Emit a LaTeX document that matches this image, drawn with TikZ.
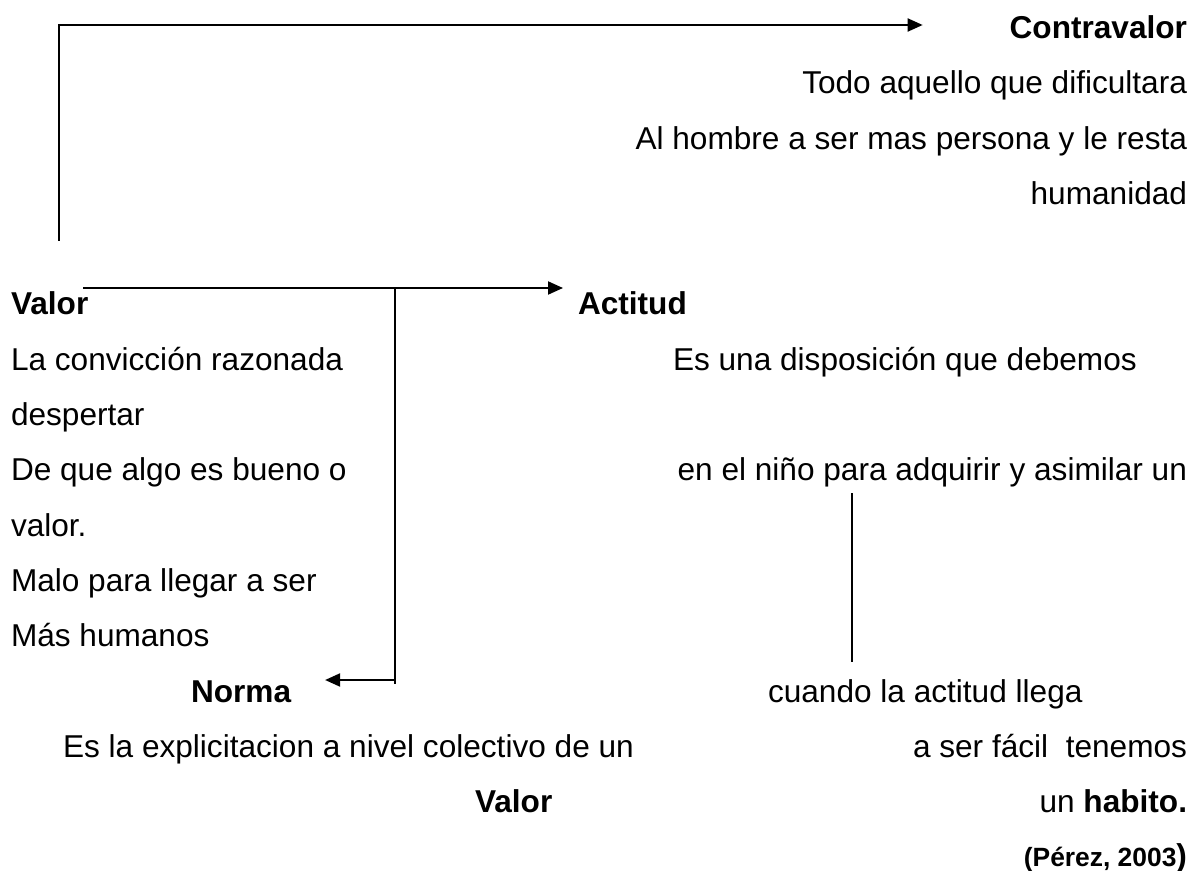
\documentclass[tikz,border=0pt]{standalone}
\usepackage{fontspec}
\setmainfont{Liberation Sans}
\usetikzlibrary{arrows.meta}
\newcommand{\bodysize}{\fontsize{15.8pt}{19pt}\selectfont}
\newcommand{\citesize}{\fontsize{13.2pt}{16pt}\selectfont}
\tikzset{
  txt/.style={inner sep=0pt, outer sep=0pt, font=\bodysize},
  lft/.style={txt, anchor=base west},
  rgt/.style={txt, anchor=base east},
  head/.style={font=\bodysize\bfseries},
  link/.style={line width=1pt},
  arr/.style={link, -{Triangle[length=7.5pt,width=6.5pt]}}
}
\begin{document}
\begin{tikzpicture}[x=0.5pt,y=-0.5pt]
  \useasboundingbox (0,0) rectangle (1193,871);
  % contravalor
  \node[rgt, head] (contra) at (1187,38.5) {Contravalor};
  \node[rgt] (todo) at (1187,93.8) {Todo aquello que dificultara};
  \node[rgt] (hombre) at (1187,149.1) {Al hombre a ser mas persona y le resta};
  \node[rgt] (human) at (1187,204.4) {humanidad};
  % valor
  \node[lft, head] (valor) at (11,315) {Valor};
  \node[lft] (conv) at (11,370.3) {La convicción razonada};
  \node[lft] (desp) at (11,425.6) {despertar};
  \node[lft] (bueno) at (11,480.9) {De que algo es bueno o};
  \node[lft] (valdot) at (11,536.2) {valor.};
  \node[lft] (malo) at (11,591.5) {Malo para llegar a ser};
  \node[lft] (mas) at (11,646.8) {Más humanos};
  % norma
  \node[lft, head] (norma) at (191,702.1) {Norma};
  \node[lft] (explic) at (63,757.4) {Es la explicitacion a nivel colectivo de un};
  \node[lft, head] (valorb) at (475,812.7) {Valor};
  % actitud
  \node[lft, head] (actitud) at (578,315) {Actitud};
  \node[lft] (dispo) at (673,370.3) {Es una disposición que debemos};
  \node[rgt] (ninio) at (1187,480.9) {en el niño para adquirir y asimilar un};
  \node[lft] (cuando) at (768,702.1) {cuando la actitud llega};
  \node[rgt] (facil) at (1187,757.4) {a ser fácil\ \ tenemos};
  \node[rgt] (habito) at (1187,812.7) {un \textbf{habito.}};
  \node[rgt, font=\citesize\bfseries] (perez) at (1187,866) {(Pérez, 2003{\bodysize)}};
  % connectors
  \coordinate (topfoot) at (59,241);
  \coordinate (topcorner) at (59,25);
  \coordinate (valtail) at (83,288);
  \coordinate (branch) at (395,288);
  \coordinate (branchfoot) at (395,684);
  \coordinate (normaknee) at (395,680);
  \coordinate (linetop) at (852,493);
  \coordinate (linebot) at (852,662);
  \draw[arr] (topfoot) -- (topcorner) -- ([xshift=-43.5pt]contra.west |- topcorner);
  \draw[arr] (valtail) -- ([xshift=-7.5pt]actitud.west |- valtail);
  \draw[link] (branch) -- (branchfoot);
  \draw[arr] (normaknee) -- ([xshift=17pt]norma.east |- normaknee);
  \draw[link] (linetop) -- (linebot);
\end{tikzpicture}
\end{document}
